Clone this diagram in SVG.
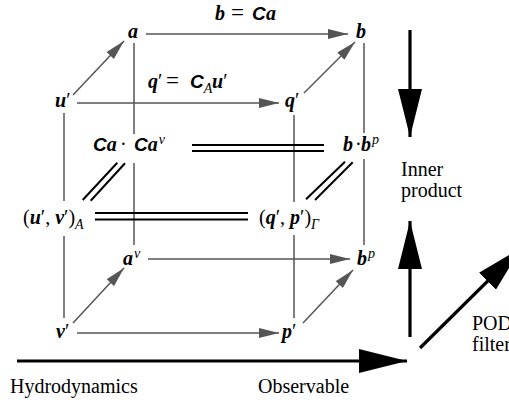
<svg xmlns="http://www.w3.org/2000/svg" width="509" height="403" viewBox="0 0 509 403">
<style>
.g{stroke:#555;stroke-width:1.5;fill:none}
.ga{marker-end:url(#ah)}
.d{stroke:#000;stroke-width:2;fill:none}
.t{stroke:#000;stroke-width:3.2;fill:none;marker-end:url(#bh)}
.m{font-family:"Liberation Serif",serif;font-weight:bold;font-style:italic;font-size:20px;fill:#000}
.c{font-family:"Liberation Sans",sans-serif;font-weight:bold;font-style:italic;font-size:19px}
.r{font-family:"Liberation Serif",serif;font-weight:normal;font-style:normal}
.s{font-family:"Liberation Serif",serif;font-weight:normal;font-style:italic;font-size:14px}
.l{font-family:"Liberation Serif","Times New Roman",serif;font-size:20px;fill:#000}
</style>
<defs>
<marker id="ah" markerUnits="userSpaceOnUse" markerWidth="20" markerHeight="10" refX="20" refY="5" orient="auto"><path d="M0,0 L20,5 L0,10 z" fill="#555"/></marker>
<marker id="bh" markerUnits="userSpaceOnUse" markerWidth="48" markerHeight="24" refX="48" refY="12" orient="auto"><path d="M0,0 L48,12 L0,24 z" fill="#000"/></marker>
</defs>
<rect width="509" height="403" fill="#fff"/>
<g id="connectors">
<line class="g ga" x1="146" y1="34" x2="348" y2="34"/>
<line class="g ga" x1="77" y1="103" x2="279" y2="103"/>
<line class="g ga" x1="148" y1="259" x2="350" y2="259"/>
<line class="g ga" x1="77" y1="333" x2="279" y2="333"/>
<line class="g ga" x1="73" y1="95" x2="124" y2="41"/>
<line class="g ga" x1="304" y1="93" x2="355" y2="42"/>
<line class="g ga" x1="73" y1="323" x2="124" y2="268"/>
<line class="g ga" x1="303" y1="323" x2="353" y2="270"/>
<path class="g" d="M134,43V134M134,163V245"/>
<path class="g" d="M64,113V201M64,236V318"/>
<path class="g" d="M364,43V133M364,159V245"/>
<path class="g" d="M294,115V202M294,235V318"/>
<path class="d" d="M192,145H324M192,151H324"/>
<path class="d" d="M95,213H248M95,219.5H248"/>
<path class="d" d="M82.7,200L117.3,162.7M90.7,200.7L125,163.3"/>
<path class="d" d="M306,199.3L345,161.7M315,200L352.7,162.3"/>
<text class="m" y="20"><tspan x="215">b</tspan><tspan class="r" x="231" font-size="23">=</tspan><tspan class="c" x="252">C</tspan><tspan x="266">a</tspan></text>
<text class="m" y="88"><tspan x="148">q</tspan><tspan class="r">′</tspan><tspan class="r" x="166" font-size="23">=</tspan><tspan class="c" x="190">C</tspan><tspan class="s" y="93">A</tspan><tspan x="212" y="88">u</tspan><tspan class="r">′</tspan></text>
</g>
<g id="axes">
<line class="t" x1="410" y1="30" x2="410" y2="137"/>
<line class="t" x1="410" y1="337" x2="410" y2="221"/>
<line class="t" x1="17" y1="361" x2="407" y2="361"/>
<line class="t" x1="420" y1="348" x2="521.5" y2="247.5"/>
</g>
<g id="node-a"><text class="m" x="128" y="38">a</text></g>
<g id="node-b"><text class="m" x="356" y="38">b</text></g>
<g id="node-u"><text class="m" x="55" y="107">u<tspan class="r">′</tspan></text></g>
<g id="node-q"><text class="m" x="285" y="107">q<tspan class="r">′</tspan></text></g>
<g id="node-Ca"><text class="m" y="151"><tspan class="c" x="93">C</tspan><tspan>a</tspan><tspan class="r" x="120">·</tspan><tspan class="c" x="134">C</tspan><tspan>a</tspan><tspan class="s" dx="1" y="144">v</tspan></text></g>
<g id="node-bb"><text class="m" y="151"><tspan x="343">b</tspan><tspan class="r" x="355">·</tspan><tspan x="361">b</tspan><tspan class="s" dx="1" y="144">p</tspan></text></g>
<g id="node-uv"><text class="m" y="224"><tspan class="r" x="23">(</tspan><tspan>u</tspan><tspan class="r">′, </tspan><tspan>v</tspan><tspan class="r">′)</tspan><tspan class="s" y="229">A</tspan></text></g>
<g id="node-qp"><text class="m" y="224"><tspan class="r" x="259">(</tspan><tspan>q</tspan><tspan class="r">′, </tspan><tspan>p</tspan><tspan class="r">′)</tspan><tspan class="s" y="229">Γ</tspan></text></g>
<g id="node-av"><text class="m" x="123" y="265">a<tspan class="s" dx="1" y="258">v</tspan></text></g>
<g id="node-bp"><text class="m" x="357" y="265">b<tspan class="s" dx="1" y="258">p</tspan></text></g>
<g id="node-v"><text class="m" x="56" y="338">v<tspan class="r">′</tspan></text></g>
<g id="node-p"><text class="m" x="282" y="338">p<tspan class="r">′</tspan></text></g>
<g id="labels">
<text class="l" x="401" y="176">Inner</text>
<text class="l" x="401" y="197">product</text>
<text class="l" x="472" y="330">POD</text>
<text class="l" x="472" y="351">filter</text>
<text class="l" x="10" y="393">Hydrodynamics</text>
<text class="l" x="258" y="393">Observable</text>
</g>
</svg>
